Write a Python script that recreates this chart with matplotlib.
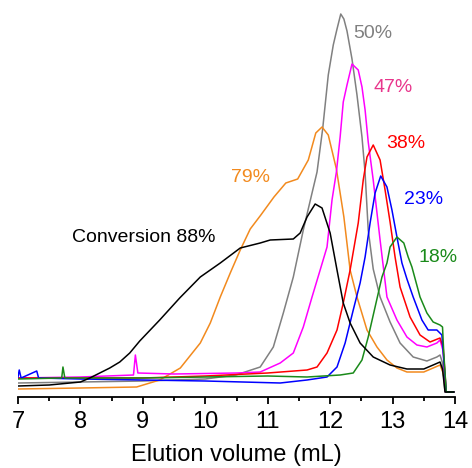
import matplotlib.pyplot as plt

plt.rcParams['font.family'] = ['Liberation Sans', 'DejaVu Sans']

# elution volume (mL) and detector signal (arbitrary units)
x_50 = [7.0, 8.0, 9.0, 10.0, 10.49, 10.88, 11.09, 11.25, 11.41, 11.57, 11.71, 11.79, 11.88,
        11.97, 12.05, 12.11, 12.17, 12.22, 12.27, 12.35, 12.43, 12.51, 12.56, 12.61, 12.69,
        12.8, 12.96, 13.12, 13.33, 13.55, 13.71, 13.76, 13.8, 13.84, 13.98]
y_50 = [14, 15, 16, 18, 22, 30, 50, 84, 120, 167, 204, 225, 268,
        322, 352, 368, 383, 378, 366, 338, 302, 260, 224, 167, 128,
        100, 75, 54, 40, 36, 40, 42, 34, 5, 5]

x_47 = [7.0, 8.0, 8.85, 8.88, 8.92, 9.5, 10.5, 10.88, 11.2, 11.41, 11.57, 11.71, 11.84,
        11.95, 12.03, 12.1, 12.16, 12.21, 12.27, 12.35, 12.45, 12.51, 12.56, 12.61, 12.69,
        12.8, 12.91, 13.07, 13.23, 13.39, 13.55, 13.71, 13.76, 13.81, 13.85, 13.98]
y_47 = [19, 20, 22, 42, 24, 23, 24, 25, 34, 44, 70, 100, 127,
        150, 197, 225, 260, 295, 312, 333, 327, 310, 287, 255, 217,
        157, 100, 77, 60, 52, 50, 54, 57, 46, 5, 5]

x_38 = [7.0, 9.0, 10.0, 11.0, 11.63, 11.79, 11.95, 12.11, 12.21, 12.32, 12.45, 12.53, 12.59,
        12.69, 12.8, 12.88, 12.96, 13.04, 13.12, 13.28, 13.44, 13.6, 13.76, 13.81, 13.86, 13.98]
y_38 = [19, 19, 21, 24, 27, 30, 44, 67, 94, 127, 174, 217, 240,
        252, 237, 207, 175, 140, 110, 80, 62, 55, 59, 50, 5, 5]

x_23 = [7.0, 7.02, 7.05, 7.3, 7.33, 8.0, 9.0, 10.0, 11.2, 11.63, 11.95, 12.11, 12.24, 12.37,
        12.48, 12.56, 12.64, 12.72, 12.81, 12.91, 12.99, 13.07, 13.15, 13.23, 13.33, 13.47,
        13.57, 13.71, 13.79, 13.86, 13.98]
y_23 = [20, 27, 19, 26, 19, 18, 17, 16, 14, 17, 20, 30, 54, 87,
        114, 140, 174, 204, 221, 210, 187, 160, 134, 118, 100, 77,
        67, 67, 62, 5, 5]

x_18 = [7.0, 7.7, 7.72, 7.75, 9.0, 10.0, 11.0, 11.63, 12.16, 12.37, 12.51, 12.61, 12.72,
        12.83, 12.91, 12.96, 13.07, 13.18, 13.25, 13.31, 13.44, 13.55, 13.65, 13.76, 13.8,
        13.82, 13.86, 13.98]
y_18 = [18, 19, 30, 19, 19, 20, 21, 20, 22, 24, 37, 60, 90,
        120, 134, 150, 160, 154, 140, 130, 100, 84, 75, 72, 70,
        44, 5, 5]

x_79 = [7.0, 8.0, 8.9, 9.27, 9.6, 9.92, 10.08, 10.24, 10.4, 10.56, 10.72, 10.89, 11.1,
        11.29, 11.48, 11.65, 11.77, 11.87, 11.97, 12.1, 12.22, 12.32, 12.43, 12.59, 12.75,
        12.91, 13.07, 13.23, 13.5, 13.65, 13.76, 13.81, 13.86, 13.98]
y_79 = [8, 9, 10, 17, 29, 54, 74, 100, 124, 147, 168, 182, 200,
        214, 218, 237, 264, 270, 262, 228, 180, 127, 100, 67, 50,
        37, 29, 25, 25, 29, 32, 24, 5, 5]

x_88 = [7.0, 7.5, 8.0, 8.15, 8.31, 8.47, 8.63, 8.79, 8.95, 9.27, 9.59, 9.92, 10.24, 10.56,
        10.88, 11.04, 11.41, 11.52, 11.63, 11.76, 11.87, 12.0, 12.11, 12.21, 12.32, 12.48,
        12.69, 12.96, 13.23, 13.5, 13.65, 13.76, 13.8, 13.84, 13.98]
y_88 = [11, 12, 15, 19, 24, 29, 35, 44, 56, 77, 99, 120, 134, 149,
        154, 157, 158, 164, 180, 193, 189, 164, 127, 94, 74, 54,
        40, 32, 28, 28, 32, 35, 28, 5, 5]

fig = plt.figure(figsize=(4.72, 4.68), dpi=100)
ax = fig.add_axes([18 / 472, 71 / 468, 437 / 472, 397 / 468])

lw = 1.1
ax.plot(x_50, y_50, color='#808080', lw=lw)
ax.plot(x_79, y_79, color='#f28a1e', lw=lw)
ax.plot(x_47, y_47, color='#ff00ff', lw=lw)
ax.plot(x_38, y_38, color='#ff0000', lw=lw)
ax.plot(x_23, y_23, color='#0000ff', lw=lw)
ax.plot(x_18, y_18, color='#1a8a1a', lw=lw)
ax.plot(x_88, y_88, color='black', lw=lw)

# conversion labels
fs = 14
ax.text(12.69, 364, '50%', color='#808080', fontsize=fs, ha='center', va='center')
ax.text(13.01, 310, '47%', color='#e8368c', fontsize=fs, ha='center', va='center')
ax.text(13.21, 254, '38%', color='#ff0000', fontsize=fs, ha='center', va='center')
ax.text(13.50, 197, '23%', color='#0000ff', fontsize=fs, ha='center', va='center')
ax.text(13.73, 140, '18%', color='#1a8a1a', fontsize=fs, ha='center', va='center')
ax.text(10.73, 220, '79%', color='#f28a1e', fontsize=fs, ha='center', va='center')
ax.text(9.02, 159, 'Conversion 88%', color='black', fontsize=fs, ha='center', va='center')

ax.set_xlim(7, 14)
ax.set_ylim(0, 397)
for s in ['left', 'right', 'top']:
    ax.spines[s].set_visible(False)
ax.spines['bottom'].set_linewidth(1.3)
ax.set_yticks([])
ax.set_xticks(range(7, 15))
ax.set_xticks([7.5 + i for i in range(7)], minor=True)
ax.tick_params(axis='x', which='major', length=5, width=1.3, labelsize=17, pad=5)
ax.tick_params(axis='x', which='minor', length=3, width=1.3)
ax.set_xlabel('Elution volume (mL)', fontsize=17, labelpad=8)

fig.savefig('out.png', dpi=100)
